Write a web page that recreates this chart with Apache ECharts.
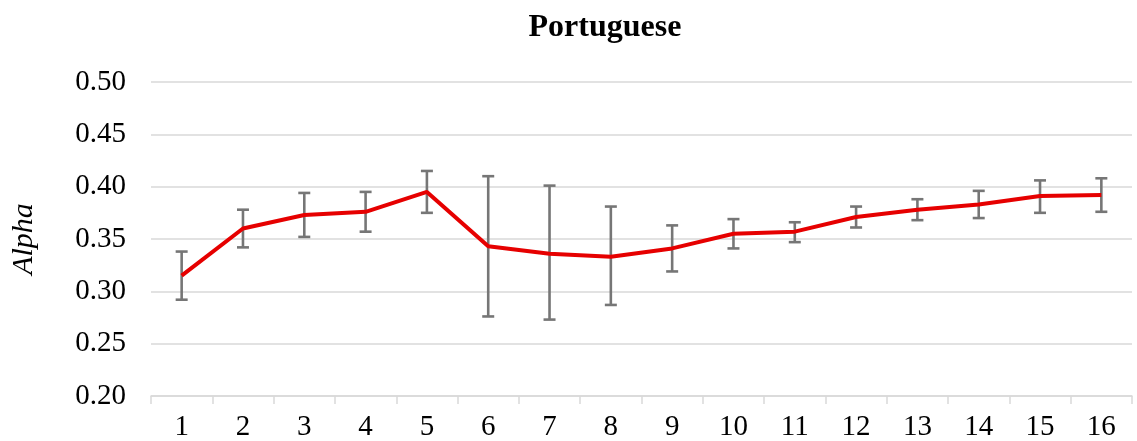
<!DOCTYPE html>
<html>
<head>
<meta charset="utf-8">
<script src="https://cdn.jsdelivr.net/npm/echarts@6/dist/echarts.min.js"></script>
<style>
html,body{margin:0;padding:0;background:#fff;}
#chart{width:1137px;height:441px;}
</style>
</head>
<body>
<div id="chart"></div>
<script>
const categories = ['1','2','3','4','5','6','7','8','9','10','11','12','13','14','15','16'];
const alphaValues = [0.315, 0.360, 0.373, 0.376, 0.395, 0.343, 0.336, 0.333, 0.341, 0.355, 0.357, 0.371, 0.378, 0.383, 0.391, 0.392];
const errorLow = [0.292, 0.342, 0.352, 0.357, 0.375, 0.276, 0.273, 0.287, 0.319, 0.341, 0.347, 0.361, 0.368, 0.370, 0.375, 0.376];
const errorHigh = [0.338, 0.378, 0.394, 0.395, 0.415, 0.410, 0.401, 0.381, 0.363, 0.369, 0.366, 0.381, 0.388, 0.396, 0.406, 0.408];

const errorData = categories.map((c, i) => [i, errorLow[i], errorHigh[i]]);

const chart = echarts.init(document.getElementById('chart'));
const serif = '"Liberation Serif", "DejaVu Serif", serif';
chart.setOption({
  animation: false,
  backgroundColor: '#ffffff',
  title: {
    text: 'Portuguese',
    left: 600,
    textAlign: 'center',
    top: 7,
    textStyle: { fontFamily: serif, fontSize: 32, fontWeight: 'bold', color: '#000' }
  },
  grid: { left: 151, right: 5, top: 82, bottom: 45, containLabel: false, outerBoundsMode: 'none' },
  xAxis: {
    type: 'category',
    data: categories,
    boundaryGap: true,
    axisLine: { lineStyle: { color: '#d9d9d9', width: 1.5 } },
    axisTick: { show: true, alignWithLabel: false, length: 8, lineStyle: { color: '#d9d9d9', width: 1.5 } },
    axisLabel: { fontFamily: serif, fontSize: 29, color: '#000', margin: 17 }
  },
  yAxis: {
    type: 'value',
    min: 0.20,
    max: 0.50,
    interval: 0.05,
    name: 'Alpha',
    nameLocation: 'middle',
    nameGap: 112,
    nameTextStyle: { fontFamily: serif, fontSize: 30, fontStyle: 'italic', color: '#000' },
    axisLine: { show: false },
    axisTick: { show: false },
    splitLine: { lineStyle: { color: '#d9d9d9', width: 1.5 } },
    axisLabel: { fontFamily: serif, fontSize: 29, color: '#000', margin: 25, formatter: v => v.toFixed(2) }
  },
  series: [
    {
      type: 'custom',
      z: 1,
      data: errorData,
      renderItem: function (params, api) {
        const x = api.value(0);
        const lo = api.coord([x, api.value(1)]);
        const hi = api.coord([x, api.value(2)]);
        const hw = 6;
        const style = { stroke: '#767676', lineWidth: 2.6 };
        return {
          type: 'group',
          children: [
            { type: 'line', shape: { x1: hi[0], y1: hi[1], x2: lo[0], y2: lo[1] }, style: style },
            { type: 'line', shape: { x1: hi[0] - hw, y1: hi[1], x2: hi[0] + hw, y2: hi[1] }, style: style },
            { type: 'line', shape: { x1: lo[0] - hw, y1: lo[1], x2: lo[0] + hw, y2: lo[1] }, style: style }
          ]
        };
      }
    },
    {
      type: 'line',
      z: 3,
      data: alphaValues,
      showSymbol: false,
      symbol: 'none',
      lineStyle: { color: '#e60000', width: 4 }
    }
  ]
});
</script>
</body>
</html>
